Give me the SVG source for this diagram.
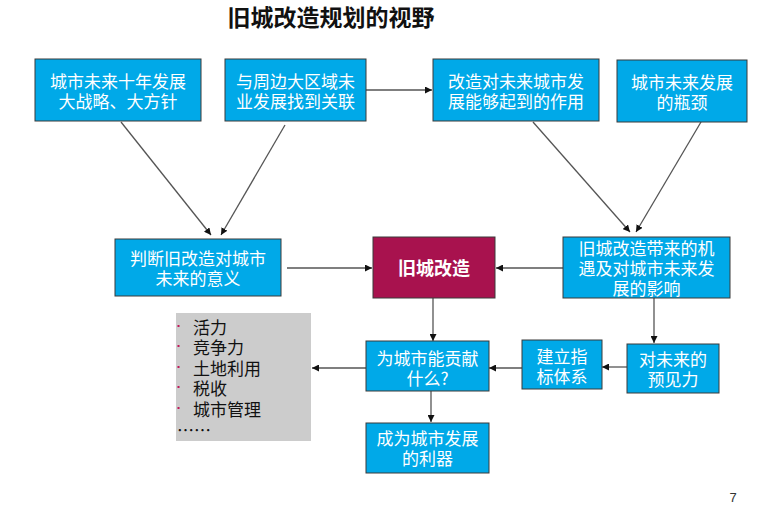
<svg xmlns="http://www.w3.org/2000/svg" width="760" height="511" viewBox="0 0 760 511">
<style>
.box{fill:#00A9E8;stroke:#3a3a3a;stroke-width:1}
.key{fill:#A8124E;stroke:#3a3a3a;stroke-width:1}
.t{font-family:"Noto Sans CJK SC","Noto Sans",sans-serif;font-size:17px;fill:#fff;text-anchor:middle;dominant-baseline:central}
.b{font-weight:bold;font-size:18px}
.l{font-family:"Noto Sans CJK SC","Noto Sans",sans-serif;font-size:17px;fill:#111;dominant-baseline:central}
.c{fill:none;stroke:#555;stroke-width:1.3;marker-end:url(#ah)}
.dot{fill:#C2185B}
</style>
<defs>
<marker id="ah" viewBox="0 0 10 10" refX="10" refY="5" markerWidth="7" markerHeight="7" markerUnits="userSpaceOnUse" orient="auto">
<path d="M0,0 L10,5 L0,10 z" fill="#111"/>
</marker>
</defs>
<rect width="760" height="511" fill="#fff"/>
<text x="331" y="16" font-family="'Noto Sans CJK SC',sans-serif" font-size="23" font-weight="bold" fill="#111" text-anchor="middle" dominant-baseline="central">旧城改造规划的视野</text>
<text x="733" y="497" font-family="'Liberation Sans',sans-serif" font-size="13" fill="#333" text-anchor="middle" dominant-baseline="central">7</text>

<g id="connectors">
<line class="c" x1="121" y1="122" x2="211" y2="235"/>
<line class="c" x1="285" y1="125" x2="221" y2="235"/>
<line class="c" x1="366" y1="90" x2="432" y2="90"/>
<line class="c" x1="533" y1="122" x2="630" y2="232"/>
<line class="c" x1="701" y1="122" x2="636" y2="232"/>
<line class="c" x1="287" y1="268" x2="372" y2="268"/>
<line class="c" x1="563" y1="268" x2="496" y2="268"/>
<line class="c" x1="654" y1="298" x2="654" y2="343"/>
<line class="c" x1="433" y1="298" x2="433" y2="341"/>
<line class="c" x1="627" y1="367" x2="602" y2="367"/>
<line class="c" x1="522" y1="368" x2="489" y2="368"/>
<line class="c" x1="366" y1="368" x2="312" y2="368"/>
<line class="c" x1="431" y1="391" x2="431" y2="422"/>
</g>

<g id="n1"><rect class="box" x="35" y="59" width="166" height="62"/><text class="t" x="118" y="80">城市未来十年发展<tspan x="118" dy="20">大战略、大方针</tspan></text></g>
<g id="n2"><rect class="box" x="225" y="59" width="141" height="62"/><text class="t" x="295.5" y="80">与周边大区域未<tspan x="295.5" dy="20">业发展找到关联</tspan></text></g>
<g id="n3"><rect class="box" x="433" y="59" width="166" height="62"/><text class="t" x="516" y="80">改造对未来城市发<tspan x="516" dy="20">展能够起到的作用</tspan></text></g>
<g id="n4"><rect class="box" x="617" y="60" width="130" height="62"/><text class="t" x="682" y="81">城市未来发展<tspan x="682" dy="20">的瓶颈</tspan></text></g>
<g id="n5"><rect class="box" x="115" y="239" width="166" height="57"/><text class="t" x="198" y="257">判断旧改造对城市<tspan x="198" dy="20">未来的意义</tspan></text></g>
<g id="n6"><rect class="key" x="373" y="237" width="122" height="61"/><text class="t b" x="434" y="267">旧城改造</text></g>
<g id="n7"><rect class="box" x="563" y="237" width="167" height="61"/><text class="t" x="646.5" y="247">旧城改造带来的机<tspan x="646.5" dy="20">遇及对城市未来发</tspan><tspan x="646.5" dy="20">展的影响</tspan></text></g>
<g id="n8"><rect class="box" x="366" y="341" width="123" height="50"/><text class="t" x="427.5" y="357">为城市能贡献<tspan x="427.5" dy="20">什么?</tspan></text></g>
<g id="n9"><rect class="box" x="522" y="340" width="80" height="49"/><text class="t" x="562" y="355">建立指<tspan x="562" dy="20">标体系</tspan></text></g>
<g id="n10"><rect class="box" x="627" y="344" width="92" height="49"/><text class="t" x="673" y="358">对未来的<tspan x="673" dy="20">预见力</tspan></text></g>
<g id="n11"><rect class="box" x="366" y="423" width="123" height="50"/><text class="t" x="427.5" y="437">成为城市发展<tspan x="427.5" dy="20">的利器</tspan></text></g>
<g id="n12">
<rect x="176" y="313" width="135" height="128" fill="#CCCCCC"/>
<rect class="dot" x="177.5" y="325" width="2" height="2"/>
<rect class="dot" x="177.5" y="345" width="2" height="2"/>
<rect class="dot" x="177.5" y="366" width="2" height="2"/>
<rect class="dot" x="177.5" y="386" width="2" height="2"/>
<rect class="dot" x="177.5" y="407" width="2" height="2"/>
<text class="l" x="193" y="326">活力<tspan x="193" dy="20">竞争力</tspan><tspan x="193" dy="21">土地利用</tspan><tspan x="193" dy="20">税收</tspan><tspan x="193" dy="21">城市管理</tspan><tspan x="177" dy="21">……</tspan></text>
</g>
</svg>
